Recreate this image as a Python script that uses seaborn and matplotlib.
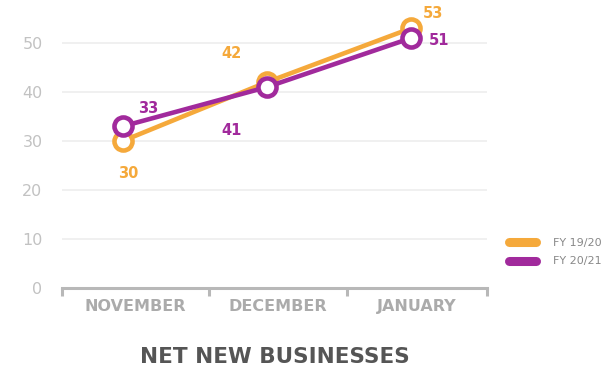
import matplotlib
matplotlib.use("Agg")
import matplotlib.pyplot as plt
from matplotlib.lines import Line2D
import seaborn as sns
import pandas as pd

months = ["NOVEMBER", "DECEMBER", "JANUARY"]
series_names = ["FY 19/20", "FY 20/21"]
fy1920 = [30, 42, 53]
fy2021 = [33, 41, 51]
y_ticks = [0, 10, 20, 30, 40, 50]
title = "NET NEW BUSINESSES"

ORANGE = "#F5A93B"
PURPLE = "#A12A9C"
palette = {series_names[0]: ORANGE, series_names[1]: PURPLE}

df = pd.DataFrame({
    "month": months * 2,
    "value": fy1920 + fy2021,
    "series": [series_names[0]] * 3 + [series_names[1]] * 3,
})
df["x"] = df["month"].map({m: i for i, m in enumerate(months)})

sns.set_theme(style="white")
plt.rcParams["font.family"] = ["DejaVu Sans"]

fig = plt.figure(figsize=(6.02, 3.76), dpi=100)
ax = fig.add_axes([62 / 602, (376 - 288) / 376, (487 - 62) / 602, 288 / 376])

sns.lineplot(data=df, x="x", y="value", hue="series", palette=palette,
             hue_order=series_names, ax=ax, legend=False,
             marker="o", markersize=13, markerfacecolor="white",
             markeredgewidth=3.3, linewidth=3.3, solid_capstyle="round")
for ln in ax.lines:
    ln.set_markeredgecolor(ln.get_color())
    ln.set_zorder(3)

# axes limits
xl, xr = -0.42, 2.53
ax.set_xlim(xl, xr)
ax.set_ylim(0, 58.8)

# grid
for yv in y_ticks[1:]:
    ax.axhline(yv, color="#EFEFEF", lw=1.3, zorder=0)

# y axis
ax.set_yticks(y_ticks)
ax.set_yticklabels([str(v) for v in y_ticks], color="#C2C2C2", fontsize=11.5)
ax.tick_params(axis="y", length=0, pad=14)

# x axis bracket
bounds = [xl, 0.6, 1.56, xr]
mids = [(bounds[i] + bounds[i + 1]) / 2 for i in range(3)]
ax.set_xticks(mids)
ax.set_xticklabels(months, fontsize=11.5, fontweight="bold", color="#ABABAB")
ax.set_xticks(bounds, minor=True)
ax.tick_params(axis="x", which="major", length=0, pad=8)
ax.tick_params(axis="x", which="minor", length=6, width=2.2, color="#B8B8B8",
               direction="out", bottom=True)
for s in ["top", "right", "left"]:
    ax.spines[s].set_visible(False)
ax.spines["bottom"].set_color("#B8B8B8")
ax.spines["bottom"].set_linewidth(2.2)

ax.set_xlabel(title, fontsize=15.5, fontweight="bold", color="#555555", labelpad=24)
ax.set_ylabel("")

# data labels
offsets = {
    series_names[0]: [(6, -32), (-35, 29), (22, 15)],
    series_names[1]: [(26, 18), (-35, -43), (28, -2)],
}
for name, vals in zip(series_names, [fy1920, fy2021]):
    for i, v in enumerate(vals):
        ax.annotate(str(v), xy=(i, v), xytext=offsets[name][i],
                    textcoords="offset pixels", ha="center", va="center",
                    fontsize=10.5, fontweight="bold", color=palette[name])

# legend
handles = [Line2D([], [], color=palette[n], lw=6.5, solid_capstyle="round") for n in series_names]
fig.legend(handles, series_names, loc="center left", bbox_to_anchor=(499 / 602, 0.329),
           frameon=False, handlelength=2.4, handletextpad=1.6, labelspacing=0.75,
           fontsize=8, labelcolor="#888888")

fig.savefig("out.png", dpi=100)
